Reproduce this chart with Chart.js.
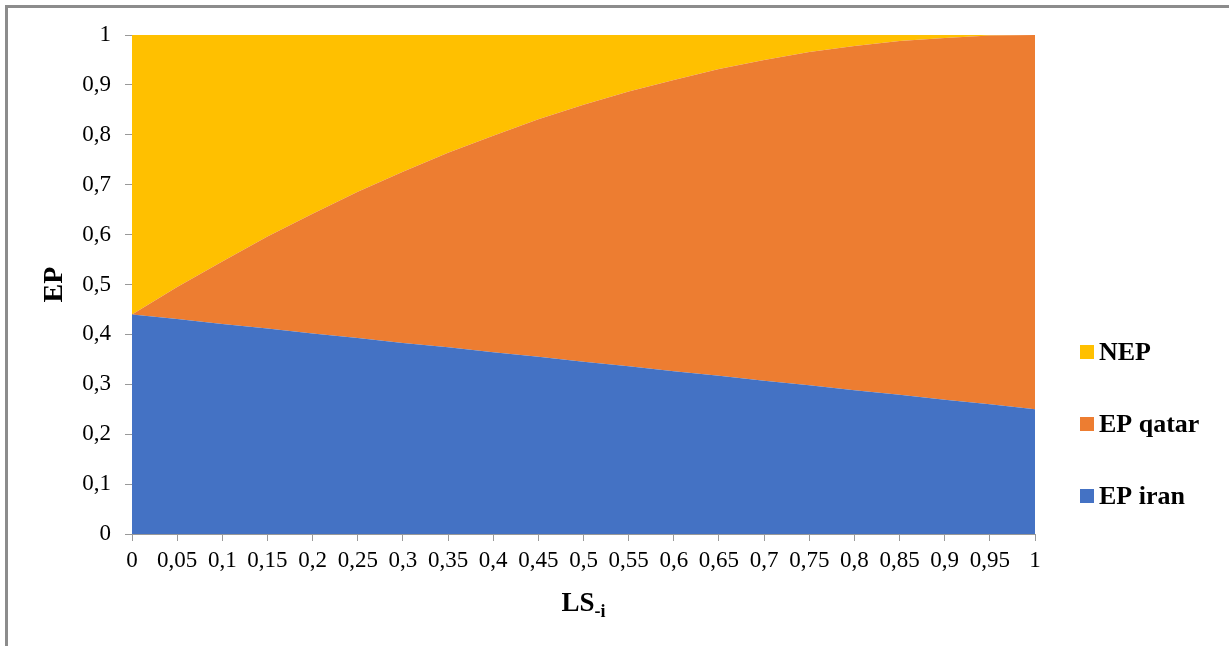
<!DOCTYPE html>
<html>
<head>
<meta charset="utf-8">
<script src="https://cdn.jsdelivr.net/npm/chart.js@4.4.0/dist/chart.umd.min.js"></script>
<style>
  html, body { margin: 0; padding: 0; background: #fff; }
  #wrap { width: 1229px; height: 646px; }
</style>
</head>
<body>
<div id="wrap"><canvas id="epChart" width="1229" height="646"></canvas></div>
<script>
// LS-i categories
const lsLabels = ['0', '0,05', '0,1', '0,15', '0,2', '0,25', '0,3', '0,35', '0,4', '0,45', '0,5',
                  '0,55', '0,6', '0,65', '0,7', '0,75', '0,8', '0,85', '0,9', '0,95', '1'];

// stacked shares
const epIran  = [0.44, 0.431, 0.421, 0.412, 0.402, 0.393, 0.383, 0.374, 0.364, 0.355, 0.345,
                 0.336, 0.326, 0.317, 0.307, 0.298, 0.288, 0.279, 0.269, 0.260, 0.25];
const epQatar = [0, 0.064, 0.125, 0.184, 0.240, 0.293, 0.343, 0.390, 0.434, 0.476, 0.515,
                 0.551, 0.584, 0.615, 0.643, 0.668, 0.690, 0.709, 0.725, 0.739, 0.75];
const nep     = [0.56, 0.505, 0.454, 0.404, 0.358, 0.314, 0.274, 0.236, 0.202, 0.169, 0.14,
                 0.113, 0.09, 0.068, 0.05, 0.034, 0.022, 0.012, 0.006, 0.001, 0];

const seriesNames = ['EP iran', 'EP qatar', 'NEP'];
const seriesColors = ['#4472C4', '#ED7D31', '#FFC000'];

Chart.defaults.font.family = "'Liberation Serif', 'Times New Roman', serif";
Chart.defaults.color = '#000';

// grey frame (top + left only, like the original)
const framePlugin = {
  id: 'frame',
  beforeDraw(chart) {
    const c = chart.ctx;
    c.save();
    c.fillStyle = '#8c8c8c';
    c.fillRect(5, 5, chart.width - 5, 3);
    c.fillRect(5, 5, 3, chart.height - 5);
    c.restore();
  }
};

// x title with subscript + legend on the right
const extrasPlugin = {
  id: 'extras',
  afterDraw(chart) {
    const c = chart.ctx;
    const area = chart.chartArea;
    c.save();
    c.fillStyle = '#000';
    c.textBaseline = 'alphabetic';
    c.textAlign = 'left';
    c.font = "bold 27px 'Liberation Serif', 'Times New Roman', serif";
    const main = 'LS';
    const wMain = c.measureText(main).width;
    c.font = "bold 18px 'Liberation Serif', 'Times New Roman', serif";
    const sub = '-i';
    const wSub = c.measureText(sub).width;
    const x0 = (area.left + area.right) / 2 - (wMain + wSub) / 2;
    c.font = "bold 27px 'Liberation Serif', 'Times New Roman', serif";
    c.fillText(main, x0, 611);
    c.font = "bold 18px 'Liberation Serif', 'Times New Roman', serif";
    c.fillText(sub, x0 + wMain, 617);

    // legend, top to bottom: NEP, EP qatar, EP iran
    const rows = [352, 424, 496];
    c.font = "bold 26px 'Liberation Serif', 'Times New Roman', serif";
    c.textBaseline = 'middle';
    for (let i = 0; i < 3; i++) {
      const ds = chart.data.datasets[2 - i];
      c.fillStyle = ds.backgroundColor;
      c.fillRect(1080, rows[i] - 7, 14, 14);
      c.fillStyle = '#000';
      c.fillText(ds.label, 1099, rows[i] + 1);
    }
    c.restore();
  }
};

function fmt(v) {
  if (v === 0 || v === 1) return String(v);
  return v.toFixed(1).replace('.', ',');
}

const ctx = document.getElementById('epChart').getContext('2d');
new Chart(ctx, {
  type: 'line',
  data: {
    labels: lsLabels,
    datasets: [
      { label: seriesNames[0], data: epIran, backgroundColor: seriesColors[0], fill: 'origin' },
      { label: seriesNames[1], data: epQatar, backgroundColor: seriesColors[1], fill: '-1' },
      { label: seriesNames[2], data: nep, backgroundColor: seriesColors[2], fill: '-1' }
    ].map(d => Object.assign(d, { borderWidth: 0, pointRadius: 0, tension: 0, borderColor: d.backgroundColor }))
  },
  options: {
    responsive: false,
    animation: false,
    layout: { padding: { left: 0, top: 35, right: 194, bottom: 0 } },
    plugins: {
      legend: { display: false },
      tooltip: { enabled: false }
    },
    scales: {
      x: {
        offset: false,
        grid: { display: true, drawOnChartArea: false, drawTicks: true, tickLength: 7, color: '#999' },
        border: { color: '#999' },
        ticks: { autoSkip: false, maxRotation: 0, font: { size: 23 }, padding: 6 },
        afterFit(scale) { scale.height = 112; }
      },
      y: {
        stacked: true,
        min: 0,
        max: 1,
        grid: { display: true, drawOnChartArea: false, tickLength: 7, color: '#999' },
        border: { color: '#999' },
        ticks: { stepSize: 0.1, font: { size: 23 }, padding: 14, callback: v => fmt(v) },
        title: {
          display: true,
          text: 'EP',
          font: { size: 28, weight: 'bold' },
          padding: { top: 38, bottom: 0 }
        },
        afterFit(scale) { scale.width = 132; }
      }
    }
  },
  plugins: [framePlugin, extrasPlugin]
});
</script>
</body>
</html>
